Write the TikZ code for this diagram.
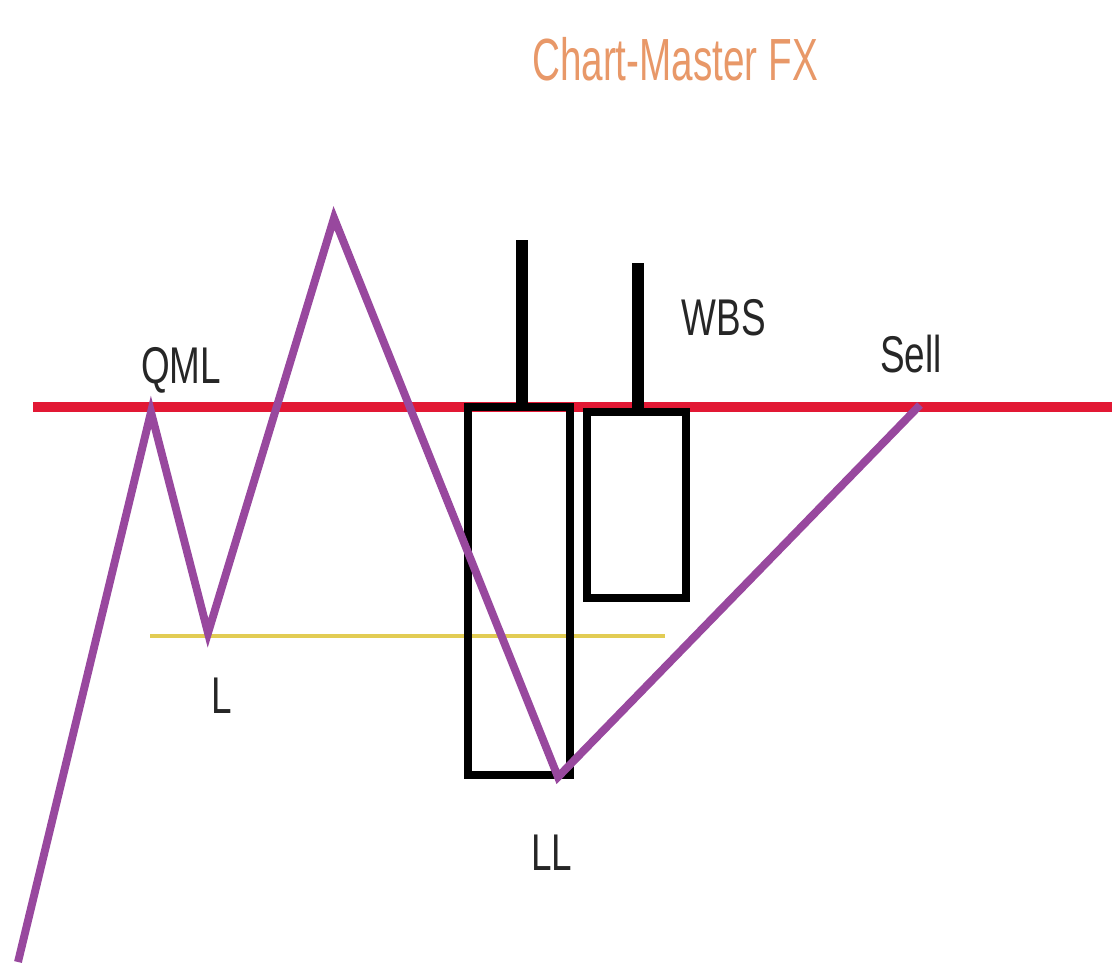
\documentclass[tikz,border=0pt]{standalone}
\usepackage{fontspec}
\setmainfont{Liberation Sans}
\usepackage{tikz}
\definecolor{zigzag}{RGB}{152,72,158}
\definecolor{qmlred}{RGB}{226,24,52}
\definecolor{lowline}{RGB}{226,204,84}
\definecolor{brand}{RGB}{232,152,104}
\tikzstyle{Label}=[inner sep=0pt, anchor=base, text=black!85, font=\fontsize{21}{25}\selectfont, yscale=1.4]
\tikzstyle{Price}=[draw=zigzag, line width=4.5pt, line join=miter]
\tikzstyle{Candle}=[draw=black, line width=4.5pt]
\tikzstyle{Wick}=[draw=black, line width=6.8pt]

\begin{document}
\begin{tikzpicture}[x=0.02cm, y=-0.02cm]

\useasboundingbox (0,0) rectangle (1120,965);

\node[Label, text=brand, font=\fontsize{22}{26}\selectfont, yscale=1.1] (title) at (675,80) {Chart-Master FX};

% qml line
\coordinate (redL) at (33,407);
\coordinate (redR) at (1112,407);
\draw[draw=qmlred, line width=5.7pt] (redL) -- (redR);

% low line
\coordinate (yelL) at (150,636);
\coordinate (yelR) at (665,636);
\draw[draw=lowline, line width=2.3pt] (yelL) -- (yelR);

% candles
\draw[Candle] (468,407) rectangle (570,775);
\draw[Wick] (522,240) -- (522,407);
\draw[Candle] (587,412) rectangle (686,598);
\draw[Wick] (638,263) -- (638,412);

% price
\coordinate (start) at (18,962);
\coordinate (qml) at (151,412);
\coordinate (low) at (208,633);
\coordinate (high) at (334,218);
\coordinate (ll) at (558,777);
\coordinate (sell) at (920,405);
\draw[Price] (start) -- (qml) -- (low) -- (high) -- (ll) -- (sell);

\node[Label] (qmltxt) at (181,383) {QML};
\node[Label] (ltxt) at (222,713) {L};
\node[Label] (lltxt) at (552,870) {LL};
\node[Label] (wbstxt) at (724,335) {WBS};
\node[Label] (selltxt) at (911,372) {Sell};

\end{tikzpicture}
\end{document}
